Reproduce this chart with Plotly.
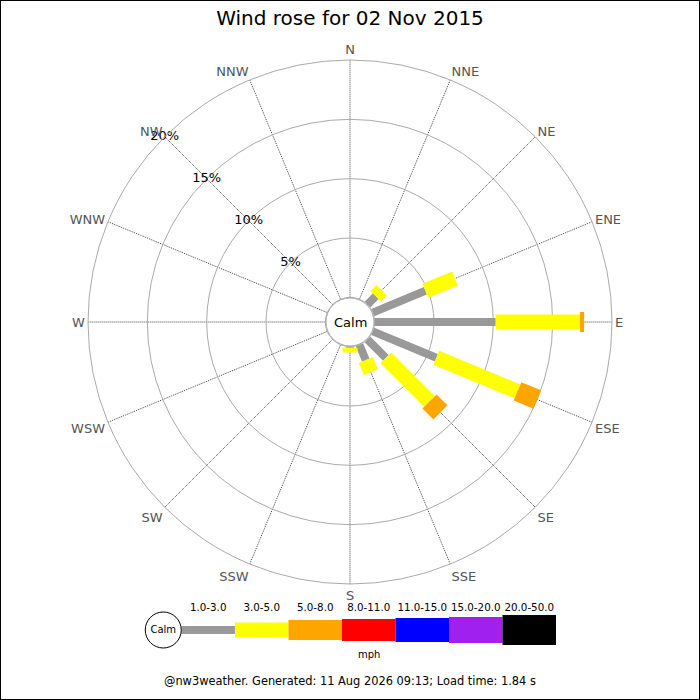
import plotly.graph_objects as go

# compass points, clockwise from north
directions = ["N", "NNE", "NE", "ENE", "E", "ESE", "SE", "SSE",
              "S", "SSW", "SW", "WSW", "W", "WNW", "NW", "NNW"]

# speed bands (mph) and their colours
bands = ["1.0-3.0", "3.0-5.0", "5.0-8.0", "8.0-11.0", "11.0-15.0", "15.0-20.0", "20.0-50.0"]
band_colors = ["#999999", "#ffff00", "#ffa500", "#ff0000", "#0000ff", "#a020f0", "#000000"]
band_widths = [8, 15, 20, 22, 24, 26, 30]

# percentage of time per direction in each band (only directions with data)
rose_dirs = ["NE", "ENE", "E", "ESE", "SE", "SSE", "S"]
pct_1_3 = [1.0, 4.8, 10.2, 5.8, 2.2, 1.4, 0.1]
pct_3_5 = [0.7, 2.7, 7.1, 7.4, 5.2, 1.1, 0.4]
pct_5_8 = [0.0, 0.0, 0.35, 1.8, 1.3, 0.0, 0.0]
band_values = [pct_1_3, pct_3_5, pct_5_8]

radial_ticks = [5, 10, 15, 20]
radial_labels = ["5%", "10%", "15%", "20%"]

title = "Wind rose for 02 Nov 2015"
footer = "@nw3weather. Generated: 11 Aug 2026 09:13; Load time: 1.84 s"

FONT = "DejaVu Sans"

fig = go.Figure()

# stacked bars drawn as thick line segments
base = [0.0] * len(rose_dirs)
for i, vals in enumerate(band_values):
    rs, ths = [], []
    for j, d in enumerate(rose_dirs):
        if vals[j] > 0:
            rs += [base[j], base[j] + vals[j], None]
            ths += [d, d, None]
        base[j] += vals[j]
    fig.add_trace(go.Scatterpolar(
        r=rs, theta=ths, mode="lines", connectgaps=False,
        line=dict(color=band_colors[i], width=band_widths[i]),
        hoverinfo="skip", showlegend=False,
    ))

# radial tick labels along the NW spoke
fig.add_trace(go.Scatterpolar(
    r=radial_ticks, theta=["NW"] * len(radial_ticks), mode="text",
    text=radial_labels, textfont=dict(family=FONT, size=13, color="black"),
    hoverinfo="skip", showlegend=False,
))

# legend strip on a hidden cartesian axis
for i, b in enumerate(bands):
    fig.add_trace(go.Scatter(
        x=[i, i + 1], y=[0, 0], mode="lines",
        line=dict(color=band_colors[i], width=band_widths[i]),
        xaxis="x", yaxis="y", hoverinfo="skip", showlegend=False,
    ))
fig.add_trace(go.Scatter(
    x=[i + 0.5 for i in range(len(bands))], y=[0.72] * len(bands),
    mode="text", text=bands, textfont=dict(family=FONT, size=10.3, color="black"),
    xaxis="x", yaxis="y", hoverinfo="skip", showlegend=False,
))
fig.add_trace(go.Scatter(
    x=[-0.34], y=[0], mode="markers+text", text=["Calm"],
    marker=dict(size=36, color="white", line=dict(color="black", width=1)),
    textfont=dict(family=FONT, size=10, color="black"),
    xaxis="x", yaxis="y", hoverinfo="skip", showlegend=False, cliponaxis=False,
))

fig.update_layout(
    width=700, height=700,
    margin=dict(l=0, r=0, t=0, b=0),
    paper_bgcolor="white", plot_bgcolor="white",
    font=dict(family=FONT),
    title=dict(text=title, x=0.5, xanchor="center", y=0.975, yanchor="middle",
               font=dict(family=FONT, size=20, color="black")),
    polar=dict(
        domain=dict(x=[88 / 700, 612 / 700], y=[116 / 700, 640 / 700]),
        hole=0.094,
        bgcolor="white",
        angularaxis=dict(
            type="category", categoryarray=directions, rotation=90, direction="clockwise",
            showline=True, linecolor="#aaaaaa", linewidth=1,
            gridcolor="#444444", griddash="1px,1px", gridwidth=1,
            ticks="", tickfont=dict(family=FONT, size=13, color="#555555"),
        ),
        radialaxis=dict(
            range=[0, 20], tickvals=radial_ticks, showticklabels=False, ticks="",
            showline=False, gridcolor="#aaaaaa", gridwidth=1,
        ),
    ),
    xaxis=dict(domain=[144 / 700, 556 / 700], range=[-0.7, 7], visible=False, fixedrange=True),
    yaxis=dict(domain=[40 / 700, 100 / 700], range=[-1, 1], visible=False, fixedrange=True),
    annotations=[
        dict(text="Calm", x=0.5, y=378 / 700, xref="paper", yref="paper", showarrow=False,
             font=dict(family=FONT, size=13, color="black")),
        dict(text="mph", x=3.5, y=-0.8, xref="x", yref="y", showarrow=False,
             font=dict(family=FONT, size=10, color="black")),
        dict(text=footer, x=0.5, y=10 / 700, xref="paper", yref="paper", showarrow=False,
             font=dict(family=FONT, size=11.4, color="black")),
    ],
    shapes=[
        dict(type="circle", xref="paper", yref="paper",
             x0=326 / 700, x1=374 / 700, y0=354 / 700, y1=402 / 700,
             fillcolor="white", line=dict(color="#aaaaaa", width=1), layer="above"),
        dict(type="rect", xref="paper", yref="paper", x0=0, x1=1, y0=0, y1=1,
             line=dict(color="black", width=2), layer="above"),
    ],
)

fig.write_html("out.html", config={"displayModeBar": False},
               post_script="document.body.style.margin='0';")
